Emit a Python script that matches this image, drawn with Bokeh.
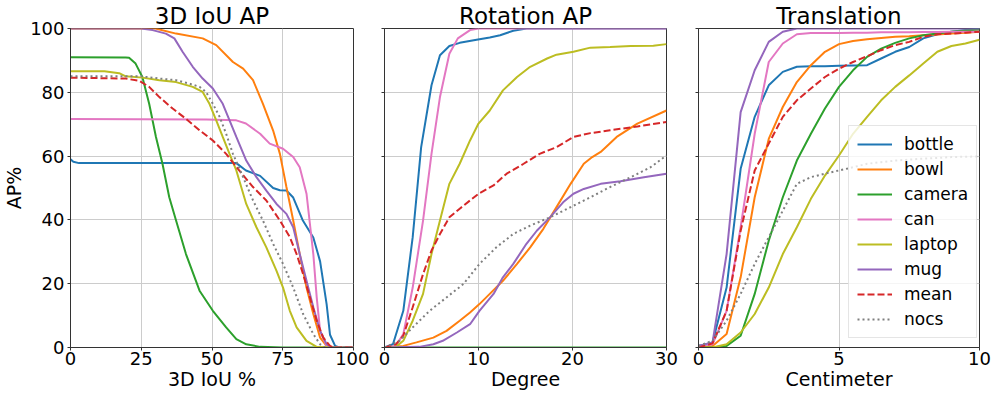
from bokeh.plotting import figure
from bokeh.layouts import row
from bokeh.models import Range1d, Legend, LegendItem, FixedTicker, CustomJSTickFormatter
from bokeh.embed import file_html
from bokeh.resources import INLINE

# ---------------- data ----------------
names = ["bottle", "bowl", "camera", "can", "laptop", "mug", "mean", "nocs"]
colors = ["#1f77b4", "#ff7f0e", "#2ca02c", "#e377c2", "#bcbd22", "#9467bd", "#d62728", "#7f7f7f"]
dashes = ["solid", "solid", "solid", "solid", "solid", "solid", "7 3", "2 3"]

titles = ["3D IoU AP", "Rotation AP", "Translation"]
xlabels = ["3D IoU %", "Degree", "Centimeter"]
xmaxes = [100, 30, 10]
xticks = [[0, 25, 50, 75, 100], [0, 10, 20, 30], [0, 5, 10]]
yticks = [0, 20, 40, 60, 80, 100]

# Panel 1: 3D IoU
iou_x_bottle = [0, 1, 3, 58.6, 62, 67, 71.6, 74, 76.3, 78.7, 82, 85.8, 88.2, 90.5, 91.7, 93.5, 95, 100]
iou_y_bottle = [59, 58.2, 57.8, 57.8, 55.5, 53.8, 50, 49.3, 49.2, 47, 40, 34.5, 27, 13.6, 4, 0.5, 0, 0]
iou_x_bowl = [0, 30, 37.3, 46.7, 51.5, 57.4, 61, 64.5, 68, 71.6, 74, 76.3, 78.7, 81, 83.4, 85.8, 88.2, 90.5, 92, 100]
iou_y_bowl = [100, 100, 98.4, 96.9, 94.8, 89.5, 87.4, 83.8, 76.4, 68, 60.7, 50.3, 39.8, 29.3, 18.8, 10.5, 3.1, 0.5, 0, 0]
iou_x_camera = [0, 19.5, 20.7, 23, 25.4, 27.8, 30.2, 32.5, 34.9, 37.3, 40.8, 45.6, 50.3, 55, 58.6, 62.1, 67, 75, 100]
iou_y_camera = [91, 90.9, 90.8, 89, 84.8, 76.4, 66, 57.6, 47.1, 39.8, 29.3, 17.8, 11.5, 6.3, 2.6, 1, 0.2, 0, 0]
iou_x_can = [0, 48, 55, 58.6, 62, 67, 70.4, 75.1, 78.7, 81, 83.4, 85.8, 87, 88.2, 90.5, 92, 100]
iou_y_can = [71.6, 71.5, 71.3, 71.2, 70.2, 67, 63.9, 62.3, 59.7, 56.5, 48.2, 29.3, 15.7, 5.2, 0.5, 0, 0]
iou_x_laptop = [0, 12, 17.2, 19.5, 25.4, 31.4, 37.3, 43.2, 46.7, 49.1, 51.5, 53.8, 56.2, 58.6, 62.1, 65.7,
                69.2, 72.8, 75.1, 77.5, 79.9, 83.4, 87, 100]
iou_y_laptop = [86.6, 86.6, 86, 85, 84.6, 83.8, 83.2, 81.7, 80.1, 76.4, 71.2, 66, 60.7, 55.5, 45, 37.7,
                31.4, 24, 18.8, 11.5, 6.3, 2.1, 0.2, 0]
iou_x_mug = [0, 25, 29, 33.7, 36.7, 39.6, 43.2, 46.7, 50.3, 53.8, 56.2, 58.6, 62.1, 65.7, 69.2, 72.8,
             76.3, 78.7, 81, 83.4, 85.8, 88.2, 90.5, 92, 100]
iou_y_mug = [100, 100, 99.5, 98.4, 96.9, 92.7, 88, 84.3, 81.2, 76.4, 71.2, 66, 58.6, 53.4, 49.2, 45,
             41.9, 37.7, 29.3, 20.9, 12.6, 5.2, 1, 0, 0]
iou_x_mean = [0, 19.5, 24.3, 27.8, 31.4, 36.1, 40.8, 45.6, 50.3, 55, 59.6, 64.5, 69.2, 74, 77.5, 79.9,
              82.2, 84.6, 87, 89.3, 91.7, 93, 100]
iou_y_mean = [84.6, 84.3, 83.6, 81.7, 78.5, 74.9, 71.7, 68.1, 64.9, 60.7, 55.5, 50.3, 46.1, 39.8, 34.6, 29.3,
              23, 15.7, 8.4, 3.1, 0.5, 0, 0]
iou_x_nocs = [0, 25, 31.4, 37.3, 42, 45.6, 47.9, 50.3, 52.7, 55, 57.4, 61, 64.5, 68, 71.6, 75.1, 78.7,
              82.2, 85.8, 88.2, 90, 100]
iou_y_nocs = [85, 85, 84.3, 83.8, 82.7, 81.7, 80.1, 76.4, 72.3, 67, 60.7, 53.4, 46.1, 39.8, 32.5, 26.2, 18.8,
              10.5, 4.2, 1, 0, 0]

# Panel 2: Rotation
rot_x_bottle = [0, 0.9, 2, 3, 3.9, 5, 5.9, 6.9, 8, 9.8, 11.2, 12.3, 13.7, 15.1, 30]
rot_y_bottle = [0, 1, 11.5, 34.6, 62.8, 82.2, 91.6, 94.5, 95.5, 96.5, 97.2, 97.9, 99.3, 100, 100]
rot_x_bowl = [0, 2, 3.4, 5.2, 6.6, 8, 9.1, 10.1, 11.2, 12.6, 14.1, 15.5, 16.9, 18.3, 19.8, 21.2, 22.1, 23,
              24.7, 26.9, 30]
rot_y_bowl = [0, 0.5, 1.6, 3.1, 5.2, 8.4, 11, 13.6, 16.8, 20.9, 26.2, 31.4, 37.2, 44, 51.3, 57.6, 59.7, 61.3,
              66, 70.2, 74.3]
rot_x_camera = [0, 30]
rot_y_camera = [0, 0]
rot_x_can = [0, 1.2, 2, 3, 4.1, 5, 5.9, 6.9, 7.8, 9.1, 10, 30]
rot_y_can = [0, 0.5, 4.2, 18.8, 39.8, 60.7, 78.5, 92.1, 96.9, 99.5, 100, 100]
rot_x_laptop = [0, 1.2, 2, 3, 4.1, 5, 5.9, 6.9, 8, 9.1, 10, 11.2, 12.6, 14.1, 15.5, 17.3, 18.3, 20.1,
                21.9, 24, 26.2, 28.6, 30]
rot_y_laptop = [0, 0.2, 2.1, 8.4, 16.8, 29.3, 39.8, 51.3, 57.6, 64.9, 70.2, 74.3, 80.6, 84.8, 88, 90.6, 91.8, 92.7,
                94, 94.2, 94.5, 94.6, 95.1]
rot_x_mug = [0, 3.7, 5.2, 6.2, 7.7, 9.1, 10.1, 11.6, 12.6, 13.7, 15.1, 16.2, 17.6, 19, 20.1, 21.2, 23, 25.1,
             27.6, 30]
rot_y_mug = [0, 0.2, 1, 2.1, 4.7, 7.3, 11.5, 16.8, 22, 26.2, 32.5, 36.6, 40.8, 45.5, 48.2, 49.7, 51.3, 52.1,
             53.4, 54.5]
rot_x_mean = [0, 1.2, 2, 3, 4.1, 5, 5.9, 6.9, 8, 9.1, 10, 11.6, 13, 14.8, 16.5, 18.3, 20.1, 21.9, 24, 26.9, 30]
rot_y_mean = [0, 1, 3.7, 12.6, 23, 30.4, 35.6, 40.8, 43.5, 46.1, 48.2, 50.8, 54.5, 57.6, 60.7, 62.8, 66, 67.2,
              68.1, 69.3, 70.7]
rot_x_nocs = [0, 1.6, 3, 4.8, 6.6, 8.4, 10.1, 11.9, 13.7, 15.5, 17.6, 19.8, 21.9, 24, 26.2, 28.3, 30]
rot_y_nocs = [0, 2.1, 6.3, 11.5, 15.7, 19.9, 26.2, 31.4, 35.6, 38.2, 40.8, 44, 47.1, 50.3, 53.4, 56.5, 60.2]

# Panel 3: Translation (shared x grid)
tr_x = [0, 0.5, 1, 1.5, 2, 2.5, 3, 3.5, 4, 4.5, 5, 5.5, 6, 6.5, 7, 7.5, 8, 8.5, 9, 9.5, 10]
tr_y_bottle = [0.5, 1.6, 18.8, 56, 72.3, 82.2, 86.4, 88, 88.2, 88.2, 88.3, 88.4, 88.5, 90.6, 92.7, 94.2,
               96.9, 98.2, 99, 99.5, 100]
tr_y_bowl = [0, 0.5, 4.2, 22, 47.1, 65.4, 75.4, 83.2, 88.5, 92.7, 95.1, 96.1, 96.6, 97, 97.4, 97.6,
             97.9, 98.1, 98.4, 98.7, 99]
tr_y_camera = [0, 0, 0.5, 3.7, 16.8, 33.5, 47.1, 58.6, 67, 74.9, 81.7, 86.9, 91.1, 93.7, 95.5, 96.9,
               97.9, 98.4, 99, 99.4, 99.7]
tr_y_can = [0.5, 1, 11.5, 37.7, 67, 89.5, 95.3, 98.2, 98.6, 98.6, 98.6, 98.7, 98.7, 98.8, 98.8, 98.8,
            98.9, 98.9, 99, 99, 99]
tr_y_laptop = [0, 0, 1, 4.7, 10.5, 18.8, 29.3, 37.7, 46.6, 53.9, 60.2, 67, 72.3, 77.5, 81.7, 85.3,
               89, 92.7, 94.5, 95.3, 96.5]
tr_y_mug = [0.5, 1.6, 29.3, 73.8, 86.9, 95.8, 99, 100, 100, 100, 100, 100, 100, 100, 100, 100,
            100, 100, 100, 100, 100]
tr_y_mean = [0, 1.3, 11.5, 36.6, 55.5, 63.9, 72.3, 77.5, 81.2, 84.8, 87.4, 89.5, 91.3, 93.2, 94.8, 95.8,
             97.4, 98.2, 98.4, 98.7, 99]
tr_y_nocs = [0.5, 2.1, 8.4, 16.8, 26.2, 34.6, 42.9, 51.3, 53.4, 54.5, 55.5, 56.5, 57.6, 58.1, 58.6, 58.9,
             59.2, 59.4, 59.7, 59.8, 59.9]

panel_x = [
    [iou_x_bottle, iou_x_bowl, iou_x_camera, iou_x_can, iou_x_laptop, iou_x_mug, iou_x_mean, iou_x_nocs],
    [rot_x_bottle, rot_x_bowl, rot_x_camera, rot_x_can, rot_x_laptop, rot_x_mug, rot_x_mean, rot_x_nocs],
    [tr_x] * 8,
]
panel_y = [
    [iou_y_bottle, iou_y_bowl, iou_y_camera, iou_y_can, iou_y_laptop, iou_y_mug, iou_y_mean, iou_y_nocs],
    [rot_y_bottle, rot_y_bowl, rot_y_camera, rot_y_can, rot_y_laptop, rot_y_mug, rot_y_mean, rot_y_nocs],
    [tr_y_bottle, tr_y_bowl, tr_y_camera, tr_y_can, tr_y_laptop, tr_y_mug, tr_y_mean, tr_y_nocs],
]

FONT = "DejaVu Sans"
frame_ws = [283, 282, 281]
lefts = [63, 15, 16]
rights = [16, 16, 12]

figs = []
for i in range(3):
    p = figure(frame_width=frame_ws[i], frame_height=319, x_range=Range1d(0, xmaxes[i]), y_range=Range1d(0, 100),
               output_backend="svg", toolbar_location=None, title=titles[i],
               min_border_left=lefts[i], min_border_right=rights[i], min_border_top=0, min_border_bottom=0)
    p.title.text_font = FONT
    p.title.text_font_size = "23px"
    p.title.text_font_style = "normal"
    p.title.text_color = "black"
    p.title.align = "center"
    p.title.standoff = 0
    p.title.offset = 0
    p.outline_line_color = "#333333"
    p.outline_line_width = 1
    p.background_fill_color = "white"
    p.border_fill_color = "white"
    for ax in (p.xaxis[0], p.yaxis[0]):
        ax.axis_line_color = "#333333"
        ax.major_tick_line_color = "#333333"
        ax.major_tick_out = 3
        ax.major_tick_in = 0
        ax.minor_tick_line_color = None
        ax.major_label_text_font = FONT
        ax.major_label_text_font_size = "18px"
        ax.major_label_text_color = "black"
        ax.axis_label_text_font = FONT
        ax.axis_label_text_font_size = "19px"
        ax.axis_label_text_font_style = "normal"
        ax.axis_label_text_color = "black"
        ax.major_label_standoff = 1
        ax.axis_label_standoff = 0
    p.yaxis[0].major_label_standoff = 3
    p.yaxis[0].axis_label_standoff = 2
    p.xaxis[0].ticker = FixedTicker(ticks=xticks[i])
    p.yaxis[0].ticker = FixedTicker(ticks=yticks)
    p.xaxis[0].axis_label = xlabels[i]
    if i == 0:
        p.yaxis[0].axis_label = "AP%"
    else:
        p.yaxis[0].formatter = CustomJSTickFormatter(code="return ''")
        p.yaxis[0].major_label_standoff = 0
    p.xgrid.grid_line_color = "#cccccc"
    p.ygrid.grid_line_color = "#cccccc"
    p.xgrid.ticker = FixedTicker(ticks=xticks[i])
    p.ygrid.ticker = FixedTicker(ticks=yticks)

    items = []
    for j in range(8):
        r = p.line(panel_x[i][j], panel_y[i][j], line_color=colors[j], line_width=2,
                   line_dash=dashes[j])
        items.append(LegendItem(label=names[j], renderers=[r]))
    if i == 2:
        leg = Legend(items=items, location=(150, 9))
        leg.label_text_font = FONT
        leg.label_text_font_size = "17px"
        leg.label_text_color = "black"
        leg.glyph_width = 35
        leg.glyph_height = 20
        leg.label_height = 20
        leg.spacing = 5
        leg.padding = 8
        leg.margin = 0
        leg.label_standoff = 12
        leg.border_line_color = "#cccccc"
        leg.background_fill_alpha = 0.8
        p.add_layout(leg, "center")
    figs.append(p)

layout = row(*figs, spacing=0)
open("out.html", "w").write(file_html(layout, INLINE))
